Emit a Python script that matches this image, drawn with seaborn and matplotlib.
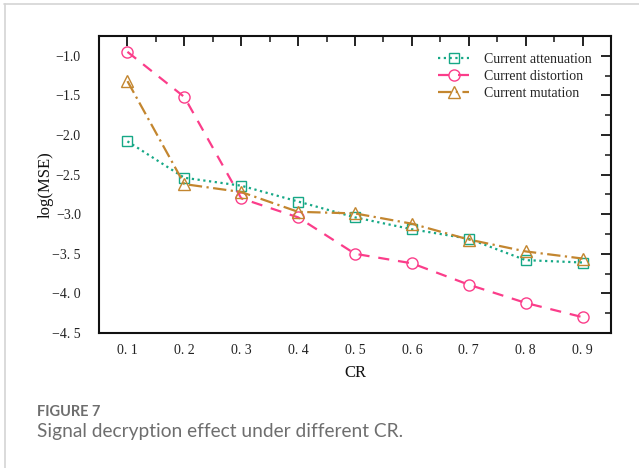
import matplotlib
matplotlib.use("Agg")
import matplotlib.pyplot as plt
import seaborn as sns
import pandas as pd
from matplotlib.lines import Line2D
from matplotlib.ticker import FixedLocator, MultipleLocator

sns.set_theme(style="white")
plt.rcParams['font.family'] = ['Liberation Serif', 'DejaVu Serif']

cr = [0.1, 0.2, 0.3, 0.4, 0.5, 0.6, 0.7, 0.8, 0.9]
attenuation = [-2.08, -2.54, -2.64, -2.84, -3.04, -3.19, -3.31, -3.58, -3.61]
distortion = [-0.95, -1.52, -2.80, -3.04, -3.50, -3.62, -3.89, -4.12, -4.30]
mutation = [-1.32, -2.62, -2.72, -2.97, -2.99, -3.12, -3.32, -3.47, -3.56]
x_labels = ["0. 1", "0. 2", "0. 3", "0. 4", "0. 5", "0. 6", "0. 7", "0. 8", "0. 9"]
y_ticks = [-1.0, -1.5, -2.0, -2.5, -3.0, -3.5, -4.0, -4.5]
y_labels = ["\u22121.0", "\u22121.5", "\u22122.0", "\u22122.5", "\u22123.0", "\u22123. 5", "\u22124. 0", "\u22124. 5"]

series = [
    ("Current attenuation", attenuation, "#16a886", "s", (1, 1.6), 7),
    ("Current distortion", distortion, "#fb3d8a", "o", (5, 4), 8),
    ("Current mutation", mutation, "#c3862f", "^", (6, 2, 1, 2), 8.5),
]

fig = plt.figure(figsize=(6.39, 4.68), dpi=100)
ax = fig.add_axes([99/639, 1 - 333/468, (611-99)/639, (333-36)/468])

for name, vals, color, marker, dash, ms in series:
    df = pd.DataFrame({"CR": cr, "val": vals})
    sns.lineplot(data=df, x="CR", y="val", ax=ax, color=color, marker=marker,
                 markersize=ms, markerfacecolor="none",
                 markeredgecolor=color, markeredgewidth=1.0, linewidth=1.6,
                 dashes=dash, label=name)

ax.set_xlim(0.05, 0.95)
ax.set_ylim(-4.5, -0.75)
ax.xaxis.set_major_locator(FixedLocator(cr))
ax.set_xticklabels(x_labels)
ax.xaxis.set_minor_locator(MultipleLocator(0.05))
ax.yaxis.set_major_locator(FixedLocator(y_ticks))
ax.set_yticklabels(y_labels)
ax.yaxis.set_minor_locator(MultipleLocator(0.25))
ax.tick_params(which="major", direction="in", length=7, width=1.4, top=True, right=True,
               labelsize=10, colors="#222222", pad=8)
ax.tick_params(which="minor", direction="in", length=4, width=1.2, top=True, right=True)
ax.tick_params(axis="y", pad=13)
for s in ax.spines.values():
    s.set_linewidth(1.5)
    s.set_color("#111111")

ax.set_xlabel("CR", fontsize=12, labelpad=6, color="#111111")
ax.set_ylabel("log(MSE)", fontsize=12, color="#111111")
ax.yaxis.set_label_coords(-0.088, 0.5)

leg = ax.legend(loc="upper right", frameon=False, fontsize=10, handlelength=2.2,
                handletextpad=1.1, labelspacing=0.3, borderaxespad=0.6,
                bbox_to_anchor=(0.99, 0.99))

fig.text(37/639, 1 - 412/468, "FIGURE 7", fontsize=10.5, color="#6e6e6e",
         family=["Lato", "DejaVu Sans"], weight="bold", va="center")
fig.text(37/639, 1 - 432/468, "Signal decryption effect under different CR.",
         fontsize=13.8, color="#6e6e6e", family=["Lato", "DejaVu Sans"], va="center")

fig.add_artist(Line2D([4/639, 1], [1 - 3.5/468, 1 - 3.5/468], transform=fig.transFigure,
                      color="#d4d4d4", linewidth=1.2))
fig.add_artist(Line2D([4.5/639, 4.5/639], [0, 1 - 3.5/468], transform=fig.transFigure,
                      color="#d4d4d4", linewidth=1.2))

fig.savefig("out.png", dpi=100)
